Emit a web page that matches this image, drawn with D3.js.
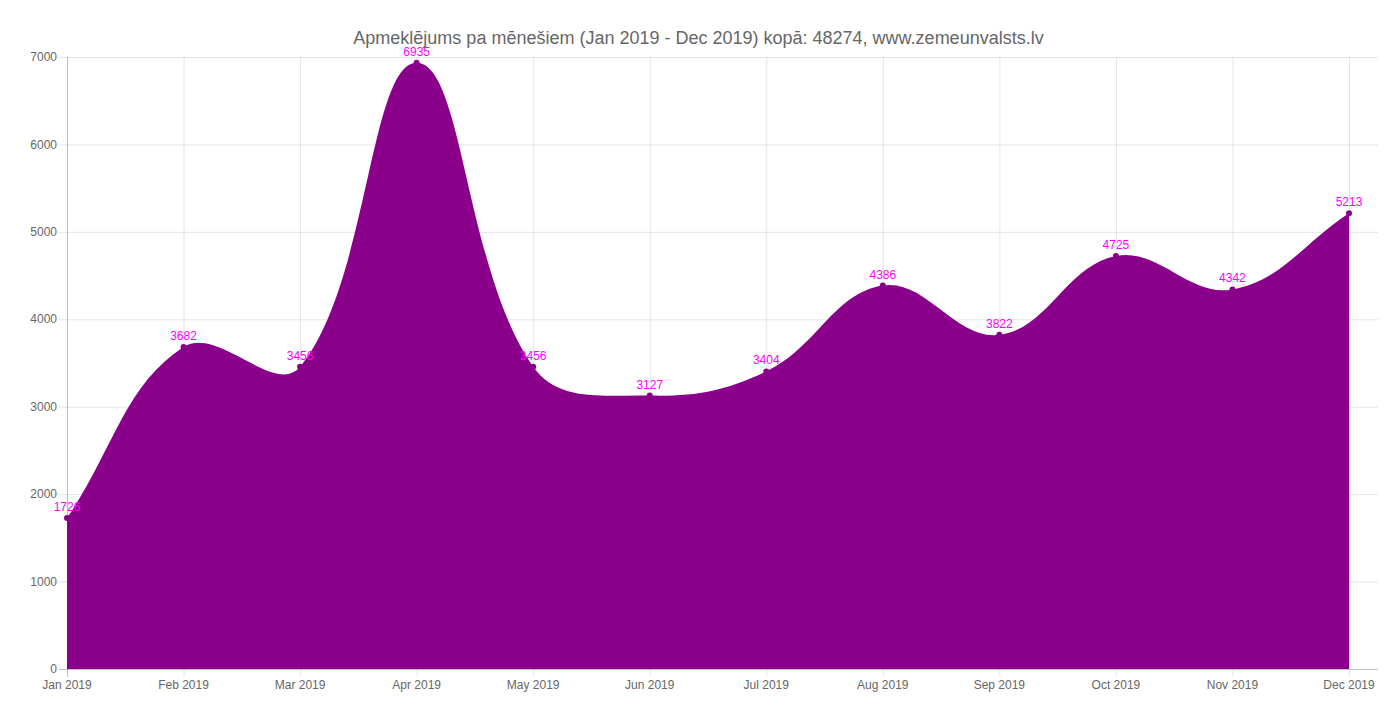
<!DOCTYPE html>
<html>
<head>
<meta charset="utf-8">
<script src="https://cdn.jsdelivr.net/npm/d3@7"></script>
<style>
  body { margin: 0; background: #fff; }
  text { font-family: "Liberation Sans", Arial, sans-serif; }
</style>
</head>
<body>
<div id="chart"></div>
<script>
const months = ["Jan 2019", "Feb 2019", "Mar 2019", "Apr 2019", "May 2019", "Jun 2019",
  "Jul 2019", "Aug 2019", "Sep 2019", "Oct 2019", "Nov 2019", "Dec 2019"];
const visits = [1726, 3682, 3456, 6935, 3456, 3127, 3404, 4386, 3822, 4725, 4342, 5213];
const yTicks = [0, 1000, 2000, 3000, 4000, 5000, 6000, 7000];
const title = "Apmeklējums pa mēnešiem (Jan 2019 - Dec 2019) kopā: 48274, www.zemeunvalsts.lv";

const width = 1397;
const height = 716;
const margin = { top: 57, right: 19, bottom: 47, left: 67 };
const plotRight = width - margin.right;
const tension = 0.4;

const svg = d3.select("#chart")
  .append("svg")
  .attr("width", width)
  .attr("height", height);

const x = d3.scalePoint()
  .domain(months)
  .range([margin.left, 1349]);

const y = d3.scaleLinear()
  .domain([0, 7000])
  .range([height - margin.bottom, margin.top]);

// grid
svg.selectAll(".hgrid")
  .data(yTicks)
  .enter().append("line")
  .attr("x1", margin.left - 8)
  .attr("x2", plotRight)
  .attr("y1", d => y(d) + 0.5)
  .attr("y2", d => y(d) + 0.5)
  .attr("stroke", d => d === 0 ? "rgba(0,0,0,0.25)" : "rgba(0,0,0,0.1)");

svg.selectAll(".vgrid")
  .data(months)
  .enter().append("line")
  .attr("x1", d => x(d) + 0.5)
  .attr("x2", d => x(d) + 0.5)
  .attr("y1", margin.top)
  .attr("y2", height - margin.bottom + 8)
  .attr("stroke", (d, i) => i === 0 ? "rgba(0,0,0,0.25)" : "rgba(0,0,0,0.1)");

// tick labels
svg.selectAll(".ylab")
  .data(yTicks)
  .enter().append("text")
  .attr("x", margin.left - 10)
  .attr("y", d => y(d))
  .attr("dy", "0.35em")
  .attr("text-anchor", "end")
  .attr("font-size", 12)
  .attr("fill", "#666")
  .text(d => d);

svg.selectAll(".xlab")
  .data(months)
  .enter().append("text")
  .attr("x", d => x(d))
  .attr("y", height - margin.bottom + 20)
  .attr("text-anchor", "middle")
  .attr("font-size", 12)
  .attr("fill", "#666")
  .text(d => d);

// area: spline with distance-weighted control points
const pts = visits.map((v, i) => [x(months[i]), y(v)]);
function ctrl(i) {
  const p = pts[Math.max(i - 1, 0)], c = pts[i], n = pts[Math.min(i + 1, pts.length - 1)];
  const d01 = Math.hypot(c[0] - p[0], c[1] - p[1]);
  const d12 = Math.hypot(n[0] - c[0], n[1] - c[1]);
  let s01 = d01 / (d01 + d12), s12 = d12 / (d01 + d12);
  if (isNaN(s01)) s01 = 0;
  if (isNaN(s12)) s12 = 0;
  const fa = tension * s01, fb = tension * s12;
  return {
    prev: [c[0] - fa * (n[0] - p[0]), c[1] - fa * (n[1] - p[1])],
    next: [c[0] + fb * (n[0] - p[0]), c[1] + fb * (n[1] - p[1])]
  };
}
const cps = pts.map((d, i) => ctrl(i));
const path = d3.path();
path.moveTo(pts[0][0], y(0));
path.lineTo(pts[0][0], pts[0][1]);
for (let i = 1; i < pts.length; i++) {
  const a = cps[i - 1].next, b = cps[i].prev;
  path.bezierCurveTo(a[0], a[1], b[0], b[1], pts[i][0], pts[i][1]);
}
path.lineTo(pts[pts.length - 1][0], y(0));
path.closePath();

svg.append("path")
  .attr("d", path.toString())
  .attr("fill", "#8b008b");

// points
svg.selectAll(".pt")
  .data(visits)
  .enter().append("circle")
  .attr("cx", (d, i) => x(months[i]))
  .attr("cy", d => y(d))
  .attr("r", 3)
  .attr("fill", "#8b008b");

// data labels
svg.selectAll(".vlab")
  .data(visits)
  .enter().append("text")
  .attr("x", (d, i) => x(months[i]))
  .attr("y", d => y(d) - 7)
  .attr("text-anchor", "middle")
  .attr("font-size", 12)
  .attr("fill", "#ff00ff")
  .text(d => d);

// title
svg.append("text")
  .attr("x", width / 2)
  .attr("y", 44)
  .attr("text-anchor", "middle")
  .attr("font-size", 18)
  .attr("fill", "#666")
  .text(title);
</script>
</body>
</html>
